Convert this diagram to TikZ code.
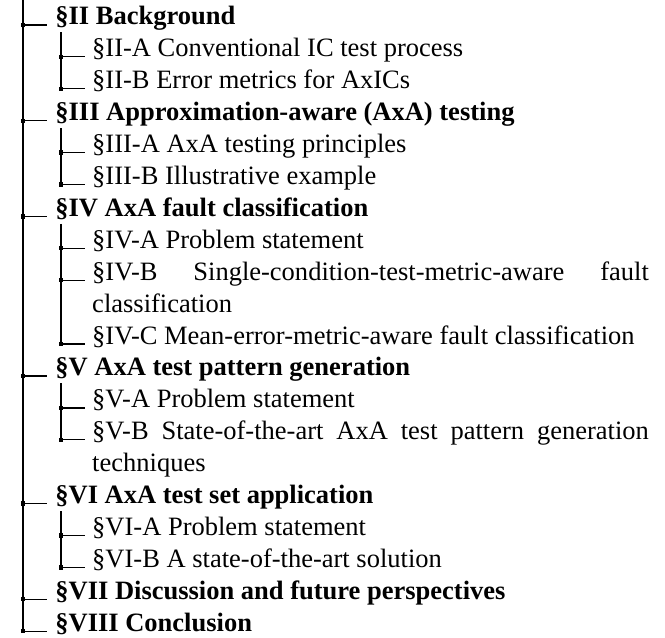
\documentclass[tikz,border=0pt]{standalone}
\usepackage{fontspec}
\setmainfont{Liberation Serif}

\begin{document}
\begin{tikzpicture}[x=1pt,y=1pt,
    jnode/.style={fill=black, rectangle, minimum size=1.6pt, inner sep=0pt},
    snode/.style={anchor=base west, inner xsep=3pt, inner ysep=0pt, text depth=2.6pt, font=\bfseries},
    ssnode/.style={anchor=base west, inner xsep=2.5pt, inner ysep=0pt, text width=210pt, align=justify,
      execute at begin node={\hyphenpenalty=10000\exhyphenpenalty=10000\tolerance=10000}},
    conn/.style={line width=0.5pt}]
    \useasboundingbox (0,0) rectangle (250.9,-240.4);
    \coordinate (top) at (8.7,0);

    % sections
    \node[jnode] (m2) at (8.7,-9.4) {};
    \node[snode] (s2) at (17.7,-9.4) {§II Background};
    \node[jnode] (m3) at (8.7,-45.52) {};
    \node[snode] (s3) at (17.7,-45.52) {§III Approximation-aware (AxA) testing};
    \node[jnode] (m4) at (8.7,-81.64) {};
    \node[snode] (s4) at (17.7,-81.64) {§IV AxA fault classification};
    \node[jnode] (m5) at (8.7,-141.84) {};
    \node[snode] (s5) at (17.7,-141.84) {§V AxA test pattern generation};
    \node[jnode] (m6) at (8.7,-190.0) {};
    \node[snode] (s6) at (17.7,-190.0) {§VI AxA test set application};
    \node[jnode] (m7) at (8.7,-226.12) {};
    \node[snode] (s7) at (17.7,-226.12) {§VII Discussion and future perspectives};
    \node[jnode] (m8) at (8.7,-238.16) {};
    \node[snode] (s8) at (17.7,-238.16) {§VIII Conclusion};

    % subsections
    \node[jnode] (m2a) at (23,-21.44) {};
    \node[ssnode] (s2a) at (32.1,-21.44) {§II-A Conventional IC test process};
    \node[jnode] (m2b) at (23,-33.48) {};
    \node[ssnode] (s2b) at (32.1,-33.48) {§II-B Error metrics for AxICs};
    \node[jnode] (m3a) at (23,-57.56) {};
    \node[ssnode] (s3a) at (32.1,-57.56) {§III-A AxA testing principles};
    \node[jnode] (m3b) at (23,-69.6) {};
    \node[ssnode] (s3b) at (32.1,-69.6) {§III-B Illustrative example};
    \node[jnode] (m4a) at (23,-93.68) {};
    \node[ssnode] (s4a) at (32.1,-93.68) {§IV-A Problem statement};
    \node[jnode] (m4b) at (23,-105.72) {};
    \node[ssnode] (s4b) at (32.1,-105.72) {§IV-B Single-condition-test-metric-aware fault classification};
    \node[jnode] (m4c) at (23,-129.8) {};
    \node[ssnode] (s4c) at (32.1,-129.8) {§IV-C Mean-error-metric-aware fault classification};
    \node[jnode] (m5a) at (23,-153.88) {};
    \node[ssnode] (s5a) at (32.1,-153.88) {§V-A Problem statement};
    \node[jnode] (m5b) at (23,-165.92) {};
    \node[ssnode] (s5b) at (32.1,-165.92) {§V-B State-of-the-art AxA test pattern generation techniques};
    \node[jnode] (m6a) at (23,-202.04) {};
    \node[ssnode] (s6a) at (32.1,-202.04) {§VI-A Problem statement};
    \node[jnode] (m6b) at (23,-214.08) {};
    \node[ssnode] (s6b) at (32.1,-214.08) {§VI-B A state-of-the-art solution};

    % tree lines
    \draw[conn] (top) -- (m8.center);
    \draw[conn] (s2.south -| m2a) -- (m2b.center);
    \draw[conn] (s3.south -| m3a) -- (m3b.center);
    \draw[conn] (s4.south -| m4a) -- (m4c.center);
    \draw[conn] (s5.south -| m5a) -- (m5b.center);
    \draw[conn] (s6.south -| m6a) -- (m6b.center);

    \draw[conn] (m2.center) -- (m2 -| s2.west);
    \draw[conn] (m3.center) -- (m3 -| s3.west);
    \draw[conn] (m4.center) -- (m4 -| s4.west);
    \draw[conn] (m5.center) -- (m5 -| s5.west);
    \draw[conn] (m6.center) -- (m6 -| s6.west);
    \draw[conn] (m7.center) -- (m7 -| s7.west);
    \draw[conn] (m8.center) -- (m8 -| s8.west);

    \draw[conn] (m2a.center) -- (m2a -| s2a.west);
    \draw[conn] (m2b.center) -- (m2b -| s2b.west);
    \draw[conn] (m3a.center) -- (m3a -| s3a.west);
    \draw[conn] (m3b.center) -- (m3b -| s3b.west);
    \draw[conn] (m4a.center) -- (m4a -| s4a.west);
    \draw[conn] (m4b.center) -- (m4b -| s4b.west);
    \draw[conn] (m4c.center) -- (m4c -| s4c.west);
    \draw[conn] (m5a.center) -- (m5a -| s5a.west);
    \draw[conn] (m5b.center) -- (m5b -| s5b.west);
    \draw[conn] (m6a.center) -- (m6a -| s6a.west);
    \draw[conn] (m6b.center) -- (m6b -| s6b.west);
\end{tikzpicture}
\end{document}
